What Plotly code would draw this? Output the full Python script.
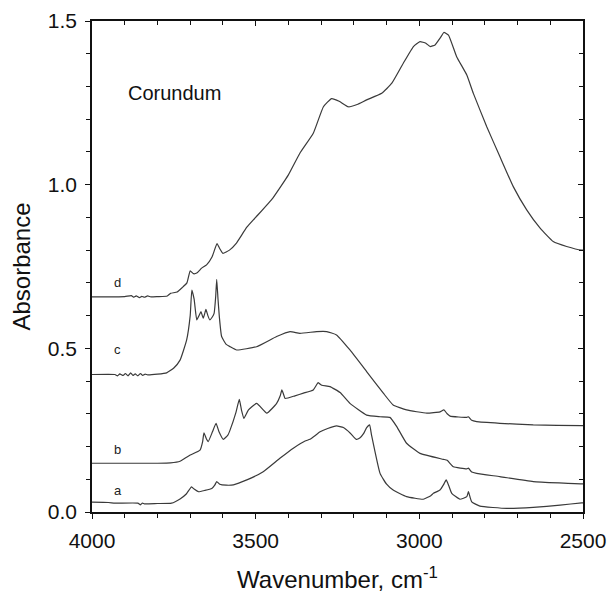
import plotly.graph_objects as go

# Spectrum a
wn_a = [4000, 3950, 3930, 3860, 3852, 3846, 3840, 3800, 3757, 3731, 3712, 3696, 3688, 3675, 3655, 3634, 3625, 3619, 3610,
        3590, 3568, 3527, 3477, 3426, 3385, 3349, 3334, 3303, 3280, 3253, 3232, 3210, 3193, 3182, 3170, 3161, 3152,
        3146, 3120, 3100, 3080, 3039, 2988, 2965, 2957, 2937, 2925, 2918, 2910, 2901, 2876, 2855, 2850, 2845, 2840,
        2815, 2733, 2652, 2570, 2504, 2500]
abs_a = [0.030, 0.029, 0.027, 0.027, 0.022, 0.027, 0.025, 0.026, 0.027, 0.040, 0.055, 0.077, 0.070, 0.062, 0.066, 0.072, 0.082, 0.093, 0.085,
         0.082, 0.083, 0.098, 0.123, 0.164, 0.195, 0.217, 0.222, 0.245, 0.255, 0.263, 0.258, 0.240, 0.222, 0.226, 0.240, 0.258, 0.266,
         0.235, 0.118, 0.085, 0.067, 0.047, 0.039, 0.050, 0.057, 0.067, 0.085, 0.098, 0.080, 0.057, 0.039, 0.047, 0.062, 0.045, 0.031,
         0.018, 0.011, 0.014, 0.021, 0.028, 0.028]

# Spectrum b
wn_b = [4000, 3900, 3800, 3760, 3731, 3715, 3700, 3670, 3662, 3658, 3650, 3645, 3632, 3621, 3612, 3599, 3585, 3578,
        3560, 3550, 3543, 3536, 3522, 3497, 3466, 3436, 3425, 3420, 3415, 3410, 3380, 3354, 3324, 3309, 3298,
        3273, 3242, 3212, 3161, 3120, 3090, 3069, 3039, 2998, 2927, 2915, 2896, 2855, 2850, 2840, 2825, 2754, 2652, 2504, 2500]
abs_b = [0.149, 0.149, 0.149, 0.150, 0.155, 0.165, 0.174, 0.189, 0.215, 0.242, 0.222, 0.215, 0.245, 0.271, 0.245, 0.222, 0.235, 0.251,
         0.305, 0.344, 0.310, 0.286, 0.312, 0.332, 0.302, 0.332, 0.355, 0.373, 0.360, 0.347, 0.355, 0.363, 0.373, 0.395, 0.387,
         0.383, 0.365, 0.332, 0.296, 0.291, 0.289, 0.261, 0.210, 0.179, 0.161, 0.158, 0.138, 0.132, 0.134, 0.122, 0.118, 0.108, 0.093, 0.086, 0.086]

# Spectrum c
wn_c = [4000, 3930, 3922, 3915, 3905, 3898, 3890, 3882, 3875, 3868, 3860, 3852, 3845, 3838, 3830, 3800, 3772, 3750, 3731,
        3711, 3700, 3695, 3688, 3680, 3673, 3667, 3663, 3660, 3656, 3652, 3646, 3640, 3633, 3627, 3622, 3619, 3615, 3611,
        3604, 3590, 3578, 3558, 3497, 3436, 3395, 3365, 3314, 3283, 3253, 3212, 3161, 3110, 3080, 3039, 2977, 2937,
        2925, 2915, 2906, 2855, 2850, 2840, 2825, 2754, 2652, 2504, 2500]
abs_c = [0.420, 0.420, 0.416, 0.422, 0.417, 0.423, 0.416, 0.425, 0.417, 0.422, 0.416, 0.423, 0.417, 0.421, 0.419, 0.421, 0.425, 0.440, 0.464,
         0.525, 0.600, 0.678, 0.650, 0.587, 0.600, 0.612, 0.600, 0.592, 0.605, 0.619, 0.600, 0.587, 0.595, 0.607, 0.660, 0.711, 0.650, 0.597,
         0.536, 0.512, 0.505, 0.495, 0.505, 0.536, 0.551, 0.546, 0.551, 0.551, 0.541, 0.495, 0.429, 0.363, 0.327, 0.312, 0.302, 0.306,
         0.312, 0.300, 0.293, 0.289, 0.291, 0.280, 0.276, 0.271, 0.266, 0.264, 0.264]

# Spectrum d
wn_d = [4000, 3900, 3880, 3872, 3865, 3855, 3848, 3840, 3830, 3820, 3800, 3770, 3760, 3740, 3725, 3710, 3700, 3690, 3680,
        3665, 3650, 3633, 3618, 3610, 3600, 3580, 3560, 3527, 3500, 3447, 3400, 3365, 3324, 3293, 3268, 3245, 3217,
        3190, 3161, 3115, 3084, 3049, 3018, 2998, 2980, 2967, 2952, 2935, 2925, 2911, 2886, 2855, 2835, 2794, 2754,
        2713, 2672, 2631, 2591, 2550, 2504, 2500]
abs_d = [0.657, 0.658, 0.661, 0.656, 0.660, 0.655, 0.659, 0.656, 0.660, 0.657, 0.658, 0.660, 0.668, 0.672, 0.685, 0.700, 0.737, 0.728, 0.730,
         0.745, 0.755, 0.780, 0.820, 0.805, 0.790, 0.800, 0.820, 0.870, 0.900, 0.960, 1.030, 1.096, 1.157, 1.238, 1.263, 1.255, 1.238,
         1.245, 1.259, 1.279, 1.310, 1.371, 1.422, 1.437, 1.432, 1.422, 1.427, 1.450, 1.465, 1.457, 1.391, 1.335, 1.279, 1.177, 1.086,
         0.994, 0.923, 0.867, 0.826, 0.811, 0.800, 0.800]

curve_labels = ["a", "b", "c", "d"]
label_y = [0.067, 0.19, 0.495, 0.70]
label_x = 3921

x_ticks = [4000, 3500, 3000, 2500]
y_ticks = [0.0, 0.5, 1.0, 1.5]
y_tick_text = ["0.0", "0.5", "1.0", "1.5"]

line_color = "#3a3a3a"
font_family = "Liberation Sans, Arial, sans-serif"

fig = go.Figure()
for wn, ab in [(wn_a, abs_a), (wn_b, abs_b), (wn_c, abs_c), (wn_d, abs_d)]:
    fig.add_trace(go.Scatter(x=wn, y=ab, mode="lines",
                             line=dict(color=line_color, width=1.2, shape="spline", smoothing=0.4),
                             showlegend=False, hoverinfo="skip"))

# invisible trace for mirrored axes (top/right, ticks inside)
fig.add_trace(go.Scatter(x=[4000], y=[0], xaxis="x2", yaxis="y2", mode="markers",
                         marker=dict(opacity=0), showlegend=False, hoverinfo="skip"))

for lab, ly in zip(curve_labels, label_y):
    fig.add_annotation(x=label_x, y=ly, text=lab, showarrow=False,
                       font=dict(family=font_family, size=13, color="#222"))

fig.add_annotation(x=3748, y=1.28, text="Corundum", showarrow=False,
                   font=dict(family=font_family, size=20, color="#111"))

axis_common = dict(showgrid=False, zeroline=False, showline=True, linecolor="#111", linewidth=1.5,
                   tickcolor="#111", tickwidth=1, automargin=False)

fig.update_layout(
    width=607, height=593,
    margin=dict(l=92, r=24, t=21, b=81),
    plot_bgcolor="white", paper_bgcolor="white",
    font=dict(family=font_family, color="#111"),
    xaxis=dict(range=[4000, 2500], tickvals=x_ticks, ticks="outside", ticklen=5, ticklabelstandoff=4,
               minor=dict(dtick=100, ticks="outside", ticklen=4, tickcolor="#111"),
               tickfont=dict(size=21), title=dict(text="Wavenumber, cm<sup>-1</sup>", font=dict(size=24), standoff=22),
               **axis_common),
    yaxis=dict(range=[0, 1.5], tickvals=y_ticks, ticktext=y_tick_text, ticks="outside", ticklen=5, ticklabelstandoff=4,
               minor=dict(dtick=0.1, ticks="outside", ticklen=4, tickcolor="#111"),
               tickfont=dict(size=21), title=dict(text="Absorbance", font=dict(size=24), standoff=10),
               **axis_common),
    xaxis2=dict(range=[4000, 2500], overlaying="x", side="top", tickvals=x_ticks, ticks="inside", ticklen=5,
                minor=dict(dtick=100, ticks="inside", ticklen=4, tickcolor="#111"),
                showticklabels=False, **axis_common),
    yaxis2=dict(range=[0, 1.5], overlaying="y", side="right", tickvals=y_ticks, ticks="inside", ticklen=5,
                minor=dict(dtick=0.1, ticks="inside", ticklen=4, tickcolor="#111"),
                showticklabels=False, **axis_common),
)

fig.write_html("out.html", config={"displayModeBar": False},
               post_script="document.body.style.margin='0';document.documentElement.style.overflow='hidden';")
